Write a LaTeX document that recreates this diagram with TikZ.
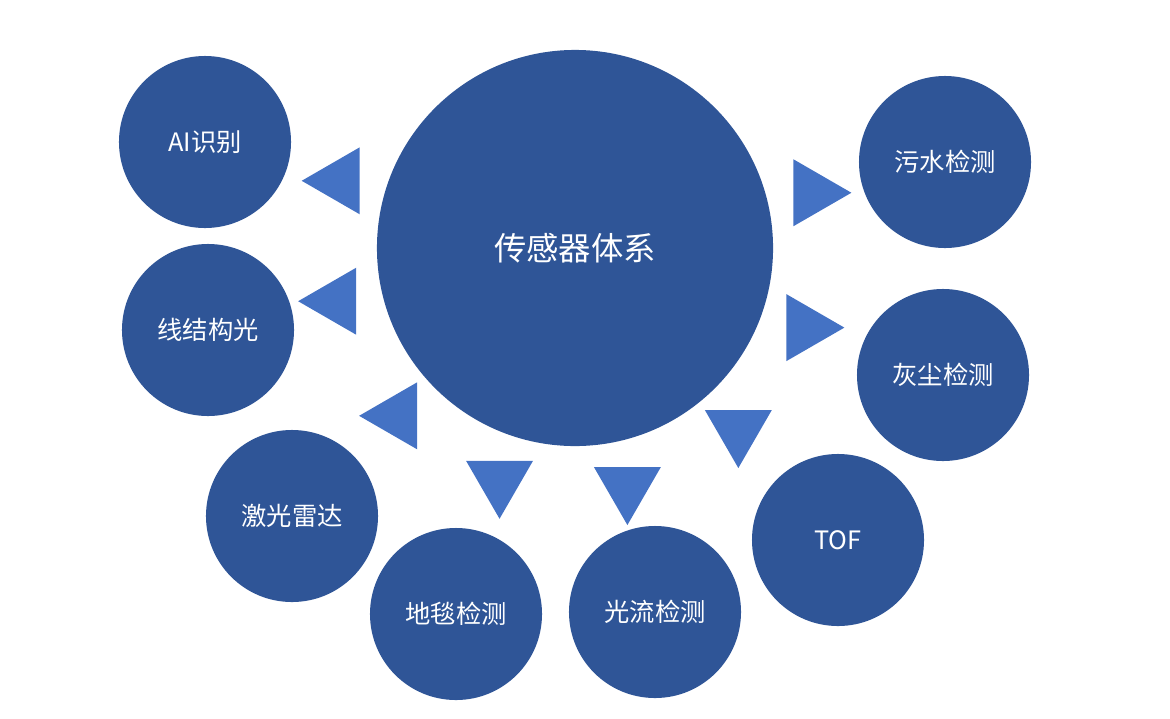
\documentclass[tikz,border=0pt]{standalone}
\usepackage{fontspec}
\setmainfont{Noto Sans CJK SC}
\usetikzlibrary{shapes.geometric, calc}
\definecolor{darkblue}{HTML}{2F5597}
\definecolor{lightblue}{HTML}{4472C4}
\tikzset{
	hub/.style={circle, fill=darkblue, text=white, minimum size=9.9cm, inner sep=0pt, font=\fontsize{23}{26}\selectfont},
	leaf/.style={circle, fill=darkblue, text=white, minimum size=4.3cm, inner sep=0pt, font=\fontsize{18}{21}\selectfont},
	pointer/.style={isosceles triangle, isosceles triangle apex angle=60, fill=lightblue, minimum height=1.45cm, inner sep=0pt}
}
\begin{document}
\begin{tikzpicture}[x=0.025cm, y=-0.025cm]
	\useasboundingbox (0,0) rectangle (1170,718);
	\node[hub] (hub) at (575,248) {传感器体系};
	% surrounding sensors
	\node[leaf] (ai) at (205,142) {AI识别};
	\node[leaf] (line) at (208,330) {线结构光};
	\node[leaf] (lidar) at (292,516) {激光雷达};
	\node[leaf] (carpet) at (456,614) {地毯检测};
	\node[leaf] (flow) at (655,612) {光流检测};
	\node[leaf] (tof) at (838,540) {TOF};
	\node[leaf] (dust) at (943,375) {灰尘检测};
	\node[leaf] (water) at (945,162) {污水检测};
	% pointers from the hub
	\foreach \s/\a in {ai/164, line/192.6, lidar/223, carpet/252, flow/282, tof/312, dust/341, water/13}
		\node[pointer, shape border rotate=\a] at ($(hub.center)!6.1cm!(\s.center)$) {};
\end{tikzpicture}
\end{document}
